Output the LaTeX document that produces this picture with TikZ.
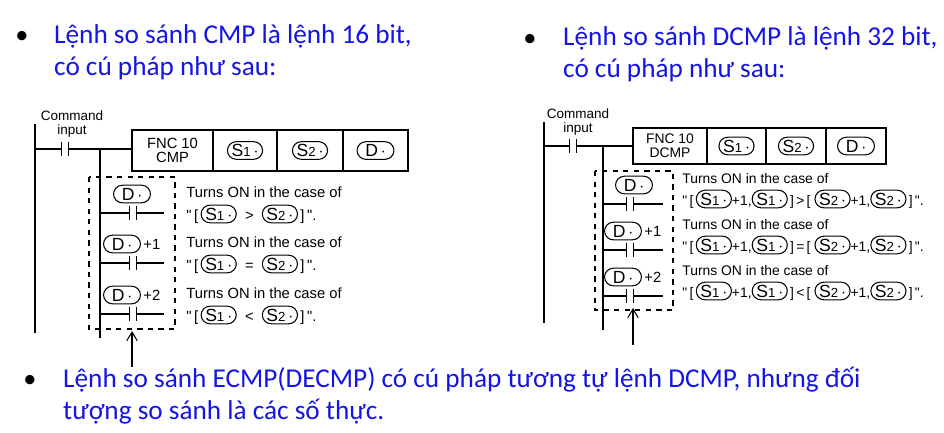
\documentclass[tikz,border=0pt]{standalone}
\usepackage{fontspec}
\setmainfont{Carlito}
\newfontfamily\plcfont{Liberation Sans}
\usetikzlibrary{arrows.meta}
\definecolor{slideblue}{RGB}{20,20,230}
\newsavebox{\boxSa}
\newsavebox{\boxSb}
\newsavebox{\boxD}
\newcommand{\ovl}[2]{\tikz[baseline=(o.base)]\node[draw,rounded corners=5pt,inner sep=0pt,minimum width=#1,minimum height=10pt,line width=0.6pt](o){\plcfont\fontsize{10}{10}\selectfont #2};}
\newcommand{\sop}[1]{\usebox{\csname box#1\endcsname}}

\begin{document}
\begin{tikzpicture}[
    x=0.02cm, y=-0.02cm,
    line width=0.6pt,
    heading/.style={anchor=west, text=slideblue, font=\fontsize{15.5}{18.2}\selectfont, align=left},
    bullet/.style={font=\fontsize{15}{16}\selectfont},
    plc/.style={font=\plcfont\fontsize{8.4}{8.4}\selectfont},
    plcr/.style={font=\plcfont\fontsize{7.9}{8}\selectfont},
    cell/.style={draw, line width=0.9pt, minimum height=0.82cm, align=center, plc, inner sep=0pt},
    contact/.style={minimum width=4pt, minimum height=8pt, inner sep=0pt},
    arrow/.style={-{Straight Barb[length=5pt,width=6pt]}, line width=0.6pt}
]
\pgfinterruptpicture
\global\sbox{\boxSa}{\ovl{20pt}{S{\fontsize{7.5}{7}\selectfont 1}\,$\cdot$}}%
\global\sbox{\boxSb}{\ovl{20pt}{S{\fontsize{7.5}{7}\selectfont 2}\,$\cdot$}}%
\global\sbox{\boxD}{\ovl{21pt}{D\,$\cdot$}}%
\endpgfinterruptpicture
\useasboundingbox (0,0) rectangle (944,433);

% Headings
\node[bullet] (b1) at (22,37) {•};
\node[heading] (h1) at (48,52) {Lệnh so sánh CMP là lệnh 16 bit,\\có cú pháp như sau:};
\node[bullet] (b2) at (530,40) {•};
\node[heading] (h2) at (557,54) {Lệnh so sánh DCMP là lệnh 32 bit,\\có cú pháp như sau:};
\node[bullet] (b3) at (30,381) {•};
\node[heading] (h3) at (57,396) {Lệnh so sánh ECMP(DECMP) có cú pháp tương tự lệnh DCMP, nhưng đối\\tượng so sánh là các số thực.};

% Left diagram (CMP)
\coordinate (L-top) at (35,124);
\coordinate (L-bot) at (35,333);
\coordinate (L-rail) at (35,149);
\coordinate (L-br) at (100,149);
\coordinate (L-brbot) at (100,338);
\node[plc, align=center, font=\plcfont\fontsize{7.7}{8}\selectfont] (L-lbl) at (72,124) {Command\\input};
\node[contact] (L-cmd) at (65,149) {};
\node[cell, minimum width=1.62cm] (L-fnc) at (172.5,150.5) {FNC 10\\CMP};
\node[cell, minimum width=1.28cm] (L-s1) at (245,150.5) {\sop{Sa}};
\node[cell, minimum width=1.32cm] (L-s2) at (310,150.5) {\sop{Sb}};
\node[cell, minimum width=1.30cm] (L-d) at (375.5,150.5) {\sop{D}};
\draw (L-top) -- (L-bot);
\draw (L-rail) -- (L-cmd.west);
\draw (L-cmd.east) -- (L-cmd.east -| L-fnc.west);
\draw (L-cmd.north west) -- (L-cmd.south west) (L-cmd.north east) -- (L-cmd.south east);
\draw (L-br) -- (L-brbot);
\foreach \i/\y/\ox/\pl/\sym in {1/213/132/{}/{>}, 2/263/122/+1/{=}, 3/314/122/+2/{<}} {
  \node[contact] (L-c\i) at (133,\y) {};
  \coordinate (L-e\i) at (164,\y);
  \draw (L-c\i.west -| L-br) -- (L-c\i.west) (L-c\i.east) -- (L-e\i);
  \draw (L-c\i.north west) -- (L-c\i.south west) (L-c\i.north east) -- (L-c\i.south east);
  \node[inner sep=0pt] (L-o\i) at (\ox,\y-19) {\sop{D}};
  \node[plc, anchor=west, inner sep=1pt] (L-p\i) at (L-o\i.east) {\pl};
  \node[plc, anchor=west, inner sep=0pt] (L-t\i) at (186,\y-21) {Turns ON in the case of};
  \node[plc, anchor=west, inner sep=0pt] (L-q\i) at (186,\y+1) {"\,[\,\sop{Sa}\ \ \sym\ \ \sop{Sb}\,]\,".};
}
\draw[dashed] (89,177) rectangle (175,329);
\coordinate (L-arr) at (132,367);
\coordinate (L-tip) at (132,331);
\draw[arrow] (L-arr) -- (L-tip);

% Right diagram (DCMP)
\coordinate (R-top) at (544,122);
\coordinate (R-bot) at (544,323);
\coordinate (R-rail) at (544,146);
\coordinate (R-br) at (603,146);
\coordinate (R-brbot) at (603,330);
\node[plc, align=center, font=\plcfont\fontsize{7.7}{8}\selectfont] (R-lbl) at (578,122) {Command\\input};
\node[contact] (R-cmd) at (573,146) {};
\node[cell, plcr, minimum width=1.48cm, minimum height=0.72cm] (R-fnc) at (670,146) {FNC 10\\DCMP};
\node[cell, minimum width=1.18cm, minimum height=0.72cm] (R-s1) at (736.5,146) {\sop{Sa}};
\node[cell, minimum width=1.20cm, minimum height=0.72cm] (R-s2) at (796,146) {\sop{Sb}};
\node[cell, minimum width=1.20cm, minimum height=0.72cm] (R-d) at (856,146) {\sop{D}};
\draw (R-top) -- (R-bot);
\draw (R-rail) -- (R-cmd.west);
\draw (R-cmd.east) -- (R-cmd.east -| R-fnc.west);
\draw (R-cmd.north west) -- (R-cmd.south west) (R-cmd.north east) -- (R-cmd.south east);
\draw (R-br) -- (R-brbot);
\foreach \i/\y/\ox/\pl/\sym in {1/204/634/{}/{>}, 2/250/623/+1/{=}, 3/296/623/+2/{<}} {
  \node[contact] (R-c\i) at (630,\y) {};
  \coordinate (R-e\i) at (663,\y);
  \draw (R-c\i.west -| R-br) -- (R-c\i.west) (R-c\i.east) -- (R-e\i);
  \draw (R-c\i.north west) -- (R-c\i.south west) (R-c\i.north east) -- (R-c\i.south east);
  \node[inner sep=0pt] (R-o\i) at (\ox,\y-19) {\sop{D}};
  \node[plc, anchor=west, inner sep=1pt] (R-p\i) at (R-o\i.east) {\pl};
  \node[plcr, anchor=west, inner sep=0pt] (R-t\i) at (682,\y-25) {Turns ON in the case of};
  \node[plcr, anchor=west, inner sep=0pt] (R-q\i) at (682,\y-5) {"\,[\,\sop{Sa}+1,\sop{Sa}\,]\,\sym\,[\ \sop{Sb}+1,\sop{Sb}\,]\,".};
}
\draw[dashed] (595,171) rectangle (673,310);
\coordinate (R-arr) at (633,345);
\coordinate (R-tip) at (633,308);
\draw[arrow] (R-arr) -- (R-tip);
\end{tikzpicture}
\end{document}
